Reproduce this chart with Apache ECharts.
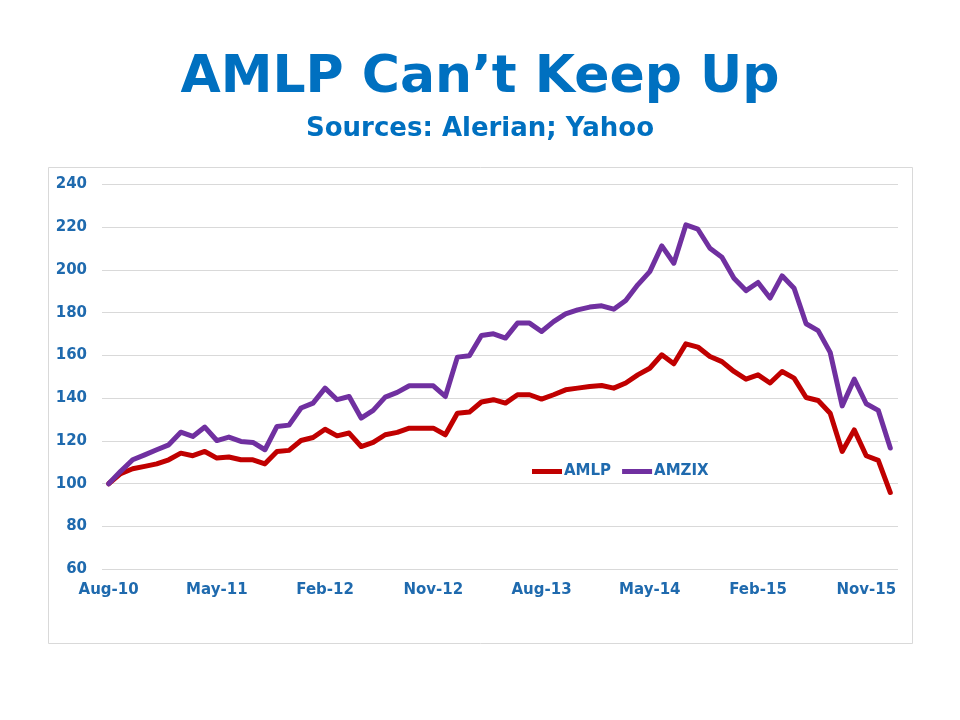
<!DOCTYPE html>
<html>
<head>
<meta charset="utf-8">
<script src="https://cdn.jsdelivr.net/npm/echarts@6/dist/echarts.min.js"></script>
<style>
html,body{margin:0;padding:0;background:#fff;}
#chart{width:960px;height:720px;}
</style>
</head>
<body>
<div id="chart"></div>
<script>
const months = [
 'Aug-10','Sep-10','Oct-10','Nov-10','Dec-10',
 'Jan-11','Feb-11','Mar-11','Apr-11','May-11','Jun-11','Jul-11','Aug-11','Sep-11','Oct-11','Nov-11','Dec-11',
 'Jan-12','Feb-12','Mar-12','Apr-12','May-12','Jun-12','Jul-12','Aug-12','Sep-12','Oct-12','Nov-12','Dec-12',
 'Jan-13','Feb-13','Mar-13','Apr-13','May-13','Jun-13','Jul-13','Aug-13','Sep-13','Oct-13','Nov-13','Dec-13',
 'Jan-14','Feb-14','Mar-14','Apr-14','May-14','Jun-14','Jul-14','Aug-14','Sep-14','Oct-14','Nov-14','Dec-14',
 'Jan-15','Feb-15','Mar-15','Apr-15','May-15','Jun-15','Jul-15','Aug-15','Sep-15','Oct-15','Nov-15','Dec-15',
 'Jan-16'
];
const xTickLabels = ['Aug-10','May-11','Feb-12','Nov-12','Aug-13','May-14','Feb-15','Nov-15'];
const yTicks = [60, 80, 100, 120, 140, 160, 180, 200, 220, 240];

const amlp = [
 100, 104.7, 107.0, 108.1, 109.3, 111.2, 114.3, 113.1, 115.1, 112.0,
 112.5, 111.2, 111.2, 109.3, 115.1, 115.6, 120.2, 121.6, 125.5, 122.4,
 123.7, 117.4, 119.3, 122.9, 124.0, 126.0, 126.0, 126.0, 122.9, 133.0,
 133.5, 138.2, 139.3, 137.7, 141.6, 141.6, 139.6, 141.6, 143.9, 144.7,
 145.5, 145.9, 144.7, 147.1, 150.9, 154.0, 160.3, 156.1, 165.4, 163.9,
 159.5, 157.1, 152.5, 148.9, 150.9, 147.1, 152.5, 149.4, 140.3, 138.9,
 133.0, 115.1, 125.2, 113.1, 110.9, 95.9
];
const amzix = [
 100, 105.8, 111.2, 113.5, 115.9, 118.2, 124.1, 122.1, 126.5, 120.2,
 121.8, 119.8, 119.3, 115.9, 126.8, 127.4, 135.4, 137.7, 144.7, 139.3,
 140.8, 130.7, 134.3, 140.5, 142.7, 145.8, 145.8, 145.8, 140.8, 159.2,
 159.8, 169.3, 170.1, 168.1, 175.1, 175.1, 171.2, 175.8, 179.4, 181.3,
 182.6, 183.2, 181.6, 185.7, 193.0, 199.2, 211.2, 203.1, 221.0, 219.0,
 210.1, 205.9, 196.1, 190.3, 194.1, 186.8, 197.2, 191.4, 174.8, 171.6,
 161.4, 136.4, 148.9, 137.4, 134.3, 116.7
];

const txt = '#1F6AAE';
const fontFam = '"DejaVu Sans", Verdana, sans-serif';
const chart = echarts.init(document.getElementById('chart'), null, {renderer: 'canvas'});
const tickIdx = xTickLabels.map(l => months.indexOf(l));

chart.setOption({
  backgroundColor: '#ffffff',
  animation: false,
  title: [
    {text: 'AMLP Can’t Keep Up', left: 'center', top: 43,
     textStyle: {color: '#0070C0', fontSize: 52, fontWeight: 'bold', fontFamily: fontFam, lineHeight: 60}},
    {text: 'Sources: Alerian; Yahoo', left: 'center', top: 109,
     textStyle: {color: '#0070C0', fontSize: 26, fontWeight: 'bold', fontFamily: fontFam, lineHeight: 30}}
  ],
  graphic: [
    {type: 'rect', shape: {x: 48.5, y: 167.5, width: 864, height: 476},
     style: {fill: 'none', stroke: '#d9d9d9', lineWidth: 1}, silent: true}
  ],
  legend: {
    left: 527, top: 459,
    icon: 'rect', itemWidth: 30, itemHeight: 5, itemGap: 11,
    textStyle: {color: txt, fontSize: 15, fontWeight: 'bold', fontFamily: fontFam, padding: [0,0,0,-3]},
    data: ['AMLP', 'AMZIX']
  },
  grid: {left: 102, right: 62, top: 184.3, bottom: 720 - 569.3, containLabel: false},
  xAxis: {
    type: 'value', min: -0.55, max: 65.64,
    axisLine: {show: false}, axisTick: {show: false}, splitLine: {show: false},
    axisLabel: {
      customValues: tickIdx,
      formatter: v => months[Math.round(v)],
      color: txt, fontSize: 15, fontWeight: 'bold', fontFamily: fontFam, margin: 13
    }
  },
  yAxis: {
    type: 'value', min: yTicks[0], max: yTicks[yTicks.length - 1], interval: 20,
    axisLine: {show: false}, axisTick: {show: false},
    splitLine: {lineStyle: {color: '#d9d9d9', width: 1}},
    axisLabel: {color: txt, fontSize: 15, fontWeight: 'bold', fontFamily: fontFam, margin: 15}
  },
  series: [
    {name: 'AMLP', type: 'line', data: amlp.map((v, i) => [i, v]), showSymbol: false,
     lineStyle: {color: '#C00000', width: 5, cap: 'round', join: 'round'}, itemStyle: {color: '#C00000'}},
    {name: 'AMZIX', type: 'line', data: amzix.map((v, i) => [i, v]), showSymbol: false,
     lineStyle: {color: '#7030A0', width: 5, cap: 'round', join: 'round'}, itemStyle: {color: '#7030A0'}}
  ]
});
</script>
</body>
</html>
